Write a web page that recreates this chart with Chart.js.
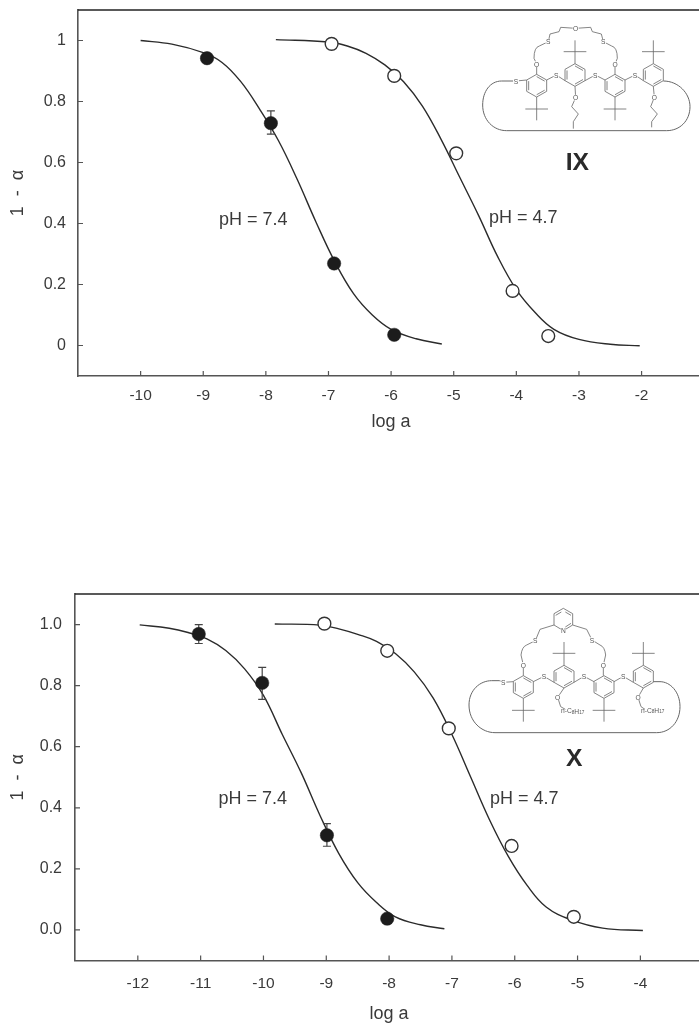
<!DOCTYPE html>
<html>
<head>
<meta charset="utf-8">
<title>1 - α vs log a</title>
<script src="https://cdn.jsdelivr.net/npm/chart.js@4"></script>
<style>
  html, body { margin: 0; padding: 0; background: #fff; width: 699px; height: 1023px; overflow: hidden; }
  canvas, svg { position: absolute; display: block; }
  #chartIX { left: 0; top: 0; }
  #chartX { left: 0; top: 560px; }
  #molIX { left: 460px; top: 0; }
  #molX { left: 460px; top: 590px; }
  svg text { font-family: 'Liberation Sans', Arial, sans-serif; fill: #555; text-anchor: middle; dominant-baseline: central; }
  svg .name { font-weight: bold; fill: #2a2a2a; font-size: 74px; }
</style>
</head>
<body>
<canvas id="chartIX"></canvas>
<canvas id="chartX"></canvas>
<svg id="molIX" width="239" height="190" viewBox="0 0 717 570"></svg>
<svg id="molX" width="239" height="190" viewBox="0 0 717 570"></svg>

<script>
// ---- panel IX readings ----
const ixXTicks = [-10, -9, -8, -7, -6, -5, -4, -3, -2];
const ixYTicks = [0, 0.2, 0.4, 0.6, 0.8, 1];
const ixYLabels = ['0', '0.2', '0.4', '0.6', '0.8', '1'];

const ixFilledX = [-8.94, -7.92, -6.91, -5.95];
const ixFilledY = [0.942, 0.729, 0.269, 0.035];
const ixErrX = [-7.92];
const ixErrLow = [0.693];
const ixErrHigh = [0.769];
const ixOpenX = [-6.95, -5.95, -4.96, -4.06, -3.49];
const ixOpenY = [0.989, 0.884, 0.63, 0.179, 0.031];

const ixCurve74X = [-10, -9.5, -9, -8.7, -8.4, -8.1, -7.8, -7.5, -7.2, -6.9, -6.6, -6.3, -6, -5.6, -5.19];
const ixCurve74Y = [1.0, 0.988, 0.96, 0.928, 0.865, 0.775, 0.672, 0.545, 0.405, 0.275, 0.17, 0.1, 0.053, 0.022, 0.005];
const ixCurve47X = [-7.84, -7, -6.7, -6.4, -6.1, -5.8, -5.5, -5.2, -4.9, -4.6, -4.3, -4, -3.7, -3.4, -3, -2.5, -2.03];
const ixCurve47Y = [1.003, 0.995, 0.982, 0.958, 0.92, 0.865, 0.785, 0.675, 0.55, 0.425, 0.292, 0.183, 0.108, 0.053, 0.02, 0.004, -0.001];

// ---- panel X readings ----
const xXTicks = [-12, -11, -10, -9, -8, -7, -6, -5, -4];
const xYTicks = [0, 0.2, 0.4, 0.6, 0.8, 1];
const xYLabels = ['0.0', '0.2', '0.4', '0.6', '0.8', '1.0'];

const xFilledX = [-11.03, -10.02, -8.99, -8.03];
const xFilledY = [0.969, 0.809, 0.31, 0.037];
const xErrX = [-11.03, -10.02, -8.99];
const xErrLow = [0.938, 0.755, 0.274];
const xErrHigh = [1.0, 0.86, 0.348];
const xOpenX = [-9.03, -8.03, -7.05, -6.05, -5.06];
const xOpenY = [1.003, 0.914, 0.66, 0.275, 0.043];

const xCurve74X = [-11.97, -11.5, -11.2, -10.9, -10.6, -10.3, -10, -9.7, -9.4, -9.1, -8.8, -8.5, -8.2, -7.9, -7.5, -7.12];
const xCurve74Y = [0.999, 0.988, 0.974, 0.953, 0.915, 0.855, 0.768, 0.64, 0.515, 0.375, 0.25, 0.155, 0.09, 0.043, 0.017, 0.004];
const xCurve47X = [-9.82, -9.1, -8.8, -8.5, -8.2, -7.9, -7.6, -7.3, -7, -6.7, -6.4, -6.1, -5.8, -5.5, -5.1, -4.6, -3.96];
const xCurve47Y = [1.002, 0.998, 0.986, 0.968, 0.945, 0.905, 0.845, 0.76, 0.64, 0.5, 0.36, 0.24, 0.145, 0.075, 0.033, 0.006, -0.002];

const phTexts = ['pH = 7.4', 'pH = 4.7'];
const ixPhX = [-8.2, -3.89];
const ixPhY = [0.41, 0.419];
const xPhX = [-10.17, -5.85];
const xPhY = [0.429, 0.429];

const SANS = "'Liberation Sans', Arial, sans-serif";
const AXIS = '#555555';
const TEXT = '#3a3a3a';
const INK = '#2b2b2b';
const TICK_LEN = 5;

function zip(xs, ys) { return xs.map((x, i) => ({ x, y: ys[i] })); }

// top rule, inward ticks and pH notes, placed through the scales
const notesPlugin = {
  id: 'notes',
  afterDraw(chart, args, opts) {
    const { ctx, chartArea, scales } = chart;
    ctx.save();
    ctx.strokeStyle = '#222';
    ctx.lineWidth = 1.5;
    ctx.beginPath();
    ctx.moveTo(chartArea.left, chartArea.top);
    ctx.lineTo(chartArea.right, chartArea.top);
    ctx.stroke();

    ctx.strokeStyle = AXIS;
    ctx.lineWidth = 1.2;
    ctx.beginPath();
    scales.x.ticks.forEach(t => {
      const px = scales.x.getPixelForValue(t.value);
      ctx.moveTo(px, chartArea.bottom);
      ctx.lineTo(px, chartArea.bottom - TICK_LEN);
    });
    scales.y.ticks.forEach(t => {
      const py = scales.y.getPixelForValue(t.value);
      ctx.moveTo(chartArea.left, py);
      ctx.lineTo(chartArea.left + TICK_LEN, py);
    });
    ctx.stroke();

    ctx.fillStyle = TEXT;
    ctx.font = '18px ' + SANS;
    ctx.textAlign = 'center';
    ctx.textBaseline = 'middle';
    phTexts.forEach((t, i) => {
      ctx.fillText(t, scales.x.getPixelForValue(opts.x[i]), scales.y.getPixelForValue(opts.y[i]));
    });
    ctx.restore();
  }
};

function noScalePadding(s) {
  s.paddingLeft = s.paddingRight = s.paddingTop = s.paddingBottom = 0;
}

function drawPanel(id, p) {
  const el = document.getElementById(id);
  // the plot runs slightly past the window edge, as in the figure
  el.width = p.width;
  el.height = p.height;
  el.style.width = p.width + 'px';
  el.style.height = p.height + 'px';

  const datasets = [
    { data: zip(p.filledX, p.filledY), showLine: false, pointRadius: 6.7, pointBackgroundColor: '#1c1c1c', pointBorderColor: '#1c1c1c', pointBorderWidth: 0.5, order: 1 },
    { data: zip(p.openX, p.openY), showLine: false, pointRadius: 6.4, pointBackgroundColor: '#fff', pointBorderColor: '#333', pointBorderWidth: 1.4, order: 1 }
  ];
  p.errX.forEach((x, i) => {
    datasets.push({
      data: [{ x, y: p.errLow[i] }, { x, y: p.errHigh[i] }],
      showLine: true, borderColor: '#444', borderWidth: 1.2,
      pointStyle: 'line', pointRadius: 4, pointBorderColor: '#444', pointBorderWidth: 1.2, order: 2
    });
  });
  [[p.curve74X, p.curve74Y], [p.curve47X, p.curve47Y]].forEach(c => {
    datasets.push({
      data: zip(c[0], c[1]), showLine: true, pointRadius: 0,
      borderColor: INK, borderWidth: 1.4, tension: 0.4, order: 3
    });
  });

  new Chart(el, {
    type: 'scatter',
    data: { datasets },
    plugins: [notesPlugin],
    options: {
      responsive: false,
      animation: false,
      layout: { padding: { top: p.top, left: 0, right: 0, bottom: 0 } },
      plugins: { legend: { display: false }, tooltip: { enabled: false }, notes: { x: p.phX, y: p.phY } },
      scales: {
        x: {
          type: 'linear', min: p.xMin, max: p.xMax,
          afterBuildTicks: s => { s.ticks = p.xTicks.map(value => ({ value })); },
          afterFit: s => { s.height = p.height - p.bottom; noScalePadding(s); },
          border: { color: AXIS, width: 1.6 },
          grid: { display: false, drawTicks: false },
          ticks: { autoSkip: false, maxRotation: 0, padding: p.xPad, color: TEXT, font: { family: SANS, size: 15.5 }, callback: v => String(v) },
          title: { display: true, text: 'log a', color: TEXT, font: { family: SANS, size: 18 }, padding: { top: 0, bottom: p.xTitlePad } }
        },
        y: {
          type: 'linear', min: -0.1, max: 1.1,
          afterBuildTicks: s => { s.ticks = p.yTicks.map(value => ({ value })); },
          afterFit: s => { s.width = p.left; noScalePadding(s); },
          border: { color: AXIS, width: 1.6 },
          grid: { display: false, drawTicks: false },
          ticks: { autoSkip: false, padding: p.yPad, color: TEXT, font: { family: SANS, size: 16 }, callback: (v, i) => p.yLabels[i] },
          title: { display: true, text: '1  -  α', color: TEXT, font: { family: SANS, size: 18 }, padding: { top: 7, bottom: 0 } }
        }
      }
    }
  });
}

drawPanel('chartIX', {
  width: 712, height: 440, top: 10, bottom: 376, left: 78, xMin: -11, xMax: -1, xPad: 10, yPad: 12, xTitlePad: 7,
  xTicks: ixXTicks, yTicks: ixYTicks, yLabels: ixYLabels,
  filledX: ixFilledX, filledY: ixFilledY, errX: ixErrX, errLow: ixErrLow, errHigh: ixErrHigh,
  openX: ixOpenX, openY: ixOpenY,
  curve74X: ixCurve74X, curve74Y: ixCurve74Y, curve47X: ixCurve47X, curve47Y: ixCurve47Y,
  phX: ixPhX, phY: ixPhY
});

drawPanel('chartX', {
  width: 711, height: 465, top: 34, bottom: 400.5, left: 75, xMin: -13, xMax: -3, xPad: 14, yPad: 13, xTitlePad: 0,
  xTicks: xXTicks, yTicks: xYTicks, yLabels: xYLabels,
  filledX: xFilledX, filledY: xFilledY, errX: xErrX, errLow: xErrLow, errHigh: xErrHigh,
  openX: xOpenX, openY: xOpenY,
  curve74X: xCurve74X, curve74Y: xCurve74Y, curve47X: xCurve47X, curve47Y: xCurve47Y,
  phX: xPhX, phY: xPhY
});

// ---- structure insets (decoration, not data) ----
function ringSvg(cx, cy) {
  const dx = 30, dy1 = 17, dy2 = 34;
  const v = [[cx, cy - dy2], [cx + dx, cy - dy1], [cx + dx, cy + dy1], [cx, cy + dy2], [cx - dx, cy + dy1], [cx - dx, cy - dy1]];
  let s = '<polygon points="' + v.map(a => a.join(',')).join(' ') + '"/>';
  // inner double bond strokes
  [[0, 1], [2, 3], [4, 5]].forEach(e => {
    const a = v[e[0]], b = v[e[1]];
    const ax = cx + (a[0] - cx) * 0.8, ay = cy + (a[1] - cy) * 0.8;
    const bx = cx + (b[0] - cx) * 0.8, by = cy + (b[1] - cy) * 0.8;
    s += '<line x1="' + ax + '" y1="' + ay + '" x2="' + bx + '" y2="' + by + '"/>';
  });
  return s;
}
function butylSvg(x, y, dir) {
  const end = y + dir * 70, mid = y + dir * 36;
  return '<path d="M' + x + ' ' + y + 'V' + end + 'M' + (x - 34) + ' ' + mid + 'H' + (x + 34) + '"/>';
}
function atomSvg(t, x, y) {
  return '<circle cx="' + x + '" cy="' + y + '" r="9" fill="#fff" stroke="none"/><text x="' + x + '" y="' + y + '" font-size="20">' + t + '</text>';
}
function pathSvg(d, w) {
  return '<path d="' + d + '"' + (w ? ' stroke-width="' + w + '"' : '') + '/>';
}
function groupSvg(inner) {
  return '<g fill="none" stroke="#666" stroke-width="2.4" stroke-linejoin="round">' + inner + '</g>';
}

document.getElementById('molIX').innerHTML = groupSvg(
  ringSvg(230, 257) + ringSvg(345, 225) + ringSvg(465, 257) + ringSvg(580, 225) +
  butylSvg(230, 291, 1) + butylSvg(345, 191, -1) + butylSvg(465, 291, 1) + butylSvg(580, 191, -1) +
  pathSvg('M200 240L168 243M260 240L289 225L315 242M375 242L406 225L435 240M495 240L525 225L550 242') +
  pathSvg('M230 223V192M465 223V192M345 259L347 293M580 259L583 292') +
  pathSvg('M230 192L222 175Q222 142 238 138L265 125L270 102L297 95L302 82L347 85L392 82L397 95L424 102L430 125L455 138Q472 142 472 175L465 192') +
  pathSvg('M347 293L335 320L355 342L340 365V386M583 292L572 320L592 342L575 365V382') +
  pathSvg('M168 243H125C90 243 68 275 68 315C68 360 100 392 140 392H620C660 392 690 362 690 320C690 280 655 243 610 243', 3)
) + atomSvg('S', 168, 243) + atomSvg('S', 289, 225) + atomSvg('S', 406, 225) + atomSvg('S', 525, 225) +
  atomSvg('O', 230, 192) + atomSvg('O', 465, 192) + atomSvg('O', 347, 293) + atomSvg('O', 583, 292) +
  atomSvg('S', 265, 125) + atomSvg('S', 430, 125) + atomSvg('O', 347, 85) +
  '<text class="name" x="352" y="484">IX</text>';

document.getElementById('molX').innerHTML = groupSvg(
  ringSvg(190, 291) + ringSvg(312, 260) + ringSvg(432, 291) + ringSvg(550, 260) +
  butylSvg(190, 325, 1) + butylSvg(312, 226, -1) + butylSvg(432, 325, 1) + butylSvg(550, 226, -1) +
  pathSvg('M160 275L130 277M220 275L252 259L282 277M342 277L372 259L402 275M462 275L490 259L520 277') +
  pathSvg('M190 257V225M430 257V225M312 294L293 322M550 294L534 322') +
  pathSvg('M190 225L183 195Q186 170 200 165L226 152L240 118L282 105M338 105L380 118L396 150L420 165Q434 170 437 195L430 225') +
  pathSvg('M293 322L302 350L316 358M534 322L543 350L555 358') +
  pathSvg('M310 55L338 71V105L310 122L282 105V71ZM304 66L287 76M333 76L316 66M333 100L316 111') +
  pathSvg('M130 277L118 272H95C60 272 27 300 27 345C27 395 65 428 105 428H590C630 428 660 395 660 350C660 305 630 275 600 275H580', 3)
) + atomSvg('S', 130, 277) + atomSvg('S', 252, 259) + atomSvg('S', 372, 259) + atomSvg('S', 490, 259) +
  atomSvg('O', 190, 225) + atomSvg('O', 430, 225) + atomSvg('O', 293, 322) + atomSvg('O', 534, 322) +
  atomSvg('S', 226, 152) + atomSvg('S', 396, 150) + atomSvg('N', 310, 122) +
  '<text x="338" y="362" font-size="20">n-C<tspan font-size="14" dy="4">8</tspan><tspan dy="-4">H</tspan><tspan font-size="14" dy="4">17</tspan></text>' +
  '<text x="578" y="360" font-size="20">n-C<tspan font-size="14" dy="4">8</tspan><tspan dy="-4">H</tspan><tspan font-size="14" dy="4">17</tspan></text>' +
  '<text class="name" x="343" y="503">X</text>';
</script>
</body>
</html>
